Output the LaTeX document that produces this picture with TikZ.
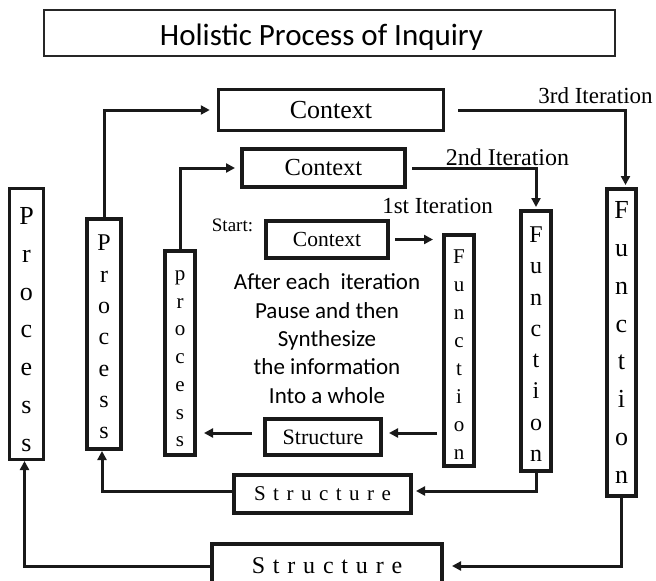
\documentclass[tikz,border=0pt]{standalone}
\usepackage{fontspec}
\setmainfont{Liberation Serif}
\newfontfamily\carlito{Carlito}
\usetikzlibrary{arrows.meta,calc}
\newcommand\strucspaced[1]{S\kern#1 t\kern#1 r\kern#1 u\kern#1 c\kern#1 t\kern#1 u\kern#1 r\kern#1 e}
\newcommand\topstrut[1]{\rule{0pt}{#1}}
\tikzset{
  box/.style={draw=black!90, line width=4pt, inner sep=0pt, rectangle},
  vbox/.style={box, align=center},
  conn/.style={draw=black!90, line width=3pt},
  arr/.style={conn, -{Triangle[length=9pt,width=9pt]}},
  lab/.style={inner sep=0pt, anchor=base},
}
\begin{document}
\begin{tikzpicture}[x=1pt,y=-1pt]
\clip (0,0) rectangle (656,581);
\fill[white] (0,0) rectangle (656,581);
% title
\node[draw=black!85, line width=1.8pt, minimum width=571pt, minimum height=46pt, inner sep=0pt] (tb) at (329.5,33) {};
\node[lab, font=\carlito\fontsize{31}{34}\selectfont] (tt) at (321.5,45) {Holistic Process of Inquiry};
% context boxes
\node[box, line width=3.5pt, minimum width=225pt, minimum height=41pt, font=\fontsize{26}{28}\selectfont] (c3) at (331,110) {Context};
\node[box, minimum width=163pt, minimum height=38pt, font=\fontsize{24.5}{26}\selectfont] (c2) at (323.5,168) {Context};
\node[box, minimum width=122pt, minimum height=37pt, font=\fontsize{21.5}{23}\selectfont] (c1) at (327,239.5) {Context};
% labels
\node[lab, font=\fontsize{19}{20}\selectfont] (st) at (232.5,231) {Start:};
\node[lab, font=\fontsize{23}{24}\selectfont] (it1) at (437.5,213) {1st Iteration};
\node[lab, font=\fontsize{24}{25}\selectfont] (it2) at (507.5,165) {2nd Iteration};
\node[lab, font=\fontsize{23}{24}\selectfont] (it3) at (595.5,103) {3rd Iteration};
% function boxes
\node[vbox, minimum width=30pt, minimum height=231pt, font=\fontsize{21}{28}\selectfont] (f1) at (459,350.5) {\topstrut{22pt}F\\u\\n\\c\\t\\i\\o\\n};
\node[vbox, minimum width=30pt, minimum height=260pt, font=\fontsize{24}{31.3}\selectfont] (f2) at (536,341) {\topstrut{22pt}F\\u\\n\\c\\t\\i\\o\\n};
\node[vbox, minimum width=29pt, minimum height=307pt, font=\fontsize{26}{37.8}\selectfont] (f3) at (621.5,342.5) {F\\u\\n\\c\\t\\i\\o\\n};
% process boxes
\node[vbox, line width=3pt, minimum width=34pt, minimum height=271pt, font=\fontsize{26}{37.8}\selectfont] (p3) at (26.5,324) {\topstrut{28pt}P\\r\\o\\c\\e\\s\\s};
\node[vbox, minimum width=34pt, minimum height=230pt, font=\fontsize{24}{31.3}\selectfont] (p2) at (104,334) {\topstrut{22pt}P\\r\\o\\c\\e\\s\\s};
\node[vbox, minimum width=30pt, minimum height=204pt, font=\fontsize{21}{27.7}\selectfont] (p1) at (180,353) {\topstrut{21.5pt}p\\r\\o\\c\\e\\s\\s};
% center text
\node[align=center, inner sep=0pt, font=\carlito\fontsize{23}{28.3}\selectfont] (ct) at (327,338.5) {After each\ \ iteration\\Pause and then\\Synthesize\\the information\\Into a whole};
% structure boxes
\node[box, minimum width=116pt, minimum height=36pt, font=\fontsize{22}{24}\selectfont] (s1) at (323,437) {Structure};
\node[box, minimum width=177pt, minimum height=38pt, font=\fontsize{21}{23}\selectfont] (s2) at (322.5,494) {\strucspaced{7.5pt}};
\node[box, minimum width=230pt, minimum height=44pt, font=\fontsize{24}{26}\selectfont] (s3) at (327,566) {\strucspaced{7.8pt}};
% connectors
\draw[arr, shorten >=7pt] (p2.north) |- (c3.west);
\draw[arr, shorten >=5pt] (p1.north) |- (c2.west);
\draw[arr, shorten <=13pt, shorten >=2pt] (c3.east) -| ([xshift=4pt]f3.north);
\draw[arr, shorten <=5pt, shorten >=2pt] (c2.east) -| (f2.north);
\draw[arr, shorten <=5pt, shorten >=9pt] (c1.east) -- (c1.east -| f1.west);
\draw[arr, shorten <=5pt, shorten >=6pt] ([yshift=4pt]s1.east -| f1.west) -- ([yshift=4pt]s1.east);
\draw[arr, shorten <=11pt, shorten >=7pt] ([yshift=4pt]s1.west) -- ([yshift=4pt]s1.west -| p1.east);
\draw[arr, shorten >=3pt] (f2.south) |- ([yshift=3pt]s2.east);
\draw[arr] ([yshift=3pt]s2.west) -| ([xshift=-2pt]p2.south);
\draw[arr, shorten >=8pt] (f3.south) |- (s3.east);
\draw[arr] (s3.west) -| ([xshift=-2pt]p3.south);
\end{tikzpicture}
\end{document}
